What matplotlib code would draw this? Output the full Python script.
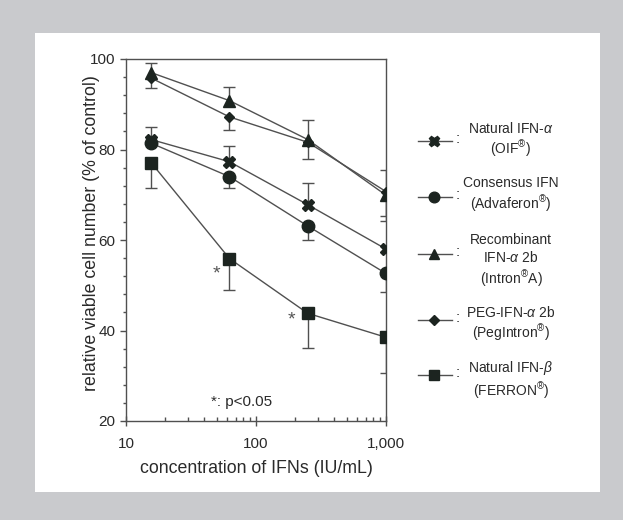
import numpy as np
import matplotlib
matplotlib.use("Agg")
import matplotlib.pyplot as plt
from matplotlib.patches import Rectangle
from matplotlib.lines import Line2D

plt.rcParams['font.family'] = ['Liberation Sans', 'DejaVu Sans']
plt.rcParams['mathtext.fontset'] = 'custom'
plt.rcParams['mathtext.rm'] = 'Liberation Sans'
plt.rcParams['mathtext.it'] = 'Liberation Sans:italic'

#----------data-------------#

conc = np.array([15.6, 62.5, 250, 1000])

nat_alpha = np.array([82.2, 77.3, 67.8, 58.0])
nat_alpha_lo = np.array([0, 0, 0, 0])
nat_alpha_hi = np.array([2.8, 3.4, 4.8, 0])

consensus = np.array([81.4, 74.0, 63.1, 52.6])
consensus_lo = np.array([0, 2.6, 3.0, 4.2])
consensus_hi = np.array([0, 0, 0, 0])

recomb = np.array([97.0, 90.8, 82.2, 69.9])
recomb_lo = np.array([0, 0, 0, 5.6])
recomb_hi = np.array([2.2, 3.1, 4.4, 5.5])

peg = np.array([95.8, 87.2, 81.6, 70.7])
peg_lo = np.array([2.3, 2.8, 3.7, 5.4])
peg_hi = np.array([0, 0, 0, 0])

nat_beta = np.array([77.1, 55.9, 43.8, 38.5])
nat_beta_lo = np.array([5.6, 7.0, 7.7, 8.0])
nat_beta_hi = np.array([0, 0, 0, 0])

names = ["Natural IFN-$\\alpha$\n(OIF$^{\\circledR}$)",
         "Consensus IFN\n(Advaferon$^{\\circledR}$)",
         "Recombinant\nIFN-$\\alpha$ 2b\n(Intron$^{\\circledR}$A)",
         "PEG-IFN-$\\alpha$ 2b\n(PegIntron$^{\\circledR}$)",
         "Natural IFN-$\\beta$\n(FERRON$^{\\circledR}$)"]

# significance marks (x, y)
sig_x = [49.5, 188]
sig_y = [52.5, 42.3]

#----------plot-------------#

W, H = 623, 520
fig = plt.figure(figsize=(W/100, H/100), dpi=100)
fig.patch.set_facecolor("#c9cacd")
fig.patches.append(Rectangle((35/W, 1-492/H), 565/W, 459/H, transform=fig.transFigure,
                             facecolor="white", edgecolor="none", zorder=-5))

ax = fig.add_axes([126/W, 1-421/H, 260/W, 362/H])
ax.set_facecolor("white")

line_c = "#505050"
mark_c = "#1c2420"
text_c = "#2a2a2a"

series = [
    (nat_alpha, nat_alpha_lo, nat_alpha_hi, "X", 8.5),
    (consensus, consensus_lo, consensus_hi, "o", 9),
    (recomb, recomb_lo, recomb_hi, "^", 8.5),
    (peg, peg_lo, peg_hi, "D", 5.5),
    (nat_beta, nat_beta_lo, nat_beta_hi, "s", 8.5),
]


def half_bars(x, y, err, side):
    m = err > 0
    if not m.any():
        return
    e = err[m]
    z = np.zeros_like(e)
    yerr = [e, z] if side == "lo" else [z, e]
    _, caps, _ = ax.errorbar(x[m], y[m], yerr=yerr, fmt="none", ecolor=line_c,
                             elinewidth=1, capsize=4, capthick=1, zorder=2)
    caps[1 if side == "lo" else 0].set_visible(False)


for y, lo, hi, mk, ms in series:
    half_bars(conc, y, lo, "lo")
    half_bars(conc, y, hi, "hi")
    ax.plot(conc, y, color=line_c, lw=1, zorder=3)
    ax.plot(conc, y, ls="none", marker=mk, ms=ms, color=mark_c, mec=mark_c, zorder=4)

for sx, sy in zip(sig_x, sig_y):
    ax.text(sx, sy, "*", ha="center", va="center", fontsize=14, color="#555555")
ax.text(78, 24.3, "*: p<0.05", ha="center", va="center", fontsize=11, color=text_c)

ax.set_xscale("log")
ax.set_xlim(10, 1000)
ax.set_ylim(20, 100)
ax.set_xticks([10, 100, 1000])
ax.set_xticklabels(["10", "100", "1,000"])
ax.set_yticks([20, 40, 60, 80, 100])
ax.set_yticks(np.arange(24, 100, 4), minor=True)

for s in ax.spines.values():
    s.set_color(line_c)
    s.set_linewidth(1)

ax.tick_params(axis="y", which="major", direction="out", length=4.5, width=1,
               color=line_c, labelsize=11, labelcolor=text_c, pad=3)
ax.tick_params(axis="y", which="minor", direction="out", length=2.5, width=1, color=line_c)
ax.tick_params(axis="x", which="major", direction="inout", length=7, width=1,
               color=line_c, labelsize=11, labelcolor=text_c, pad=8)
ax.tick_params(axis="x", which="minor", direction="in", length=3, width=1, color=line_c)

ax.set_ylabel("relative viable cell number (% of control)", fontsize=12.8, color=text_c)
ax.yaxis.set_label_coords(-0.1, 0.52)
ax.set_xlabel("concentration of IFNs (IU/mL)", fontsize=12.8, color=text_c)
ax.xaxis.set_label_coords(0.5, -0.108)

# legend drawn in pixel space
lg = fig.add_axes([0, 0, 1, 1], facecolor="none")
lg.set_xlim(0, W)
lg.set_ylim(H, 0)
lg.axis("off")
leg_line_y = [141, 197, 254, 320, 375]
leg_text_y = [140, 195, 261, 324, 380]
for (y, lo, hi, mk, ms), name, ly, ty in zip(series, names, leg_line_y, leg_text_y):
    lg.add_line(Line2D([418, 452], [ly, ly], color=line_c, lw=1))
    lg.plot([434], [ly], ls="none", marker=mk, ms=ms*0.85, color=mark_c)
    lg.text(458, ly - 2, ":", ha="center", va="center", fontsize=11, color=text_c)
    lg.text(511, ty, name, ha="center", va="center", fontsize=10, color=text_c,
            linespacing=1.2)

fig.savefig("out.png", dpi=100, facecolor=fig.get_facecolor())
